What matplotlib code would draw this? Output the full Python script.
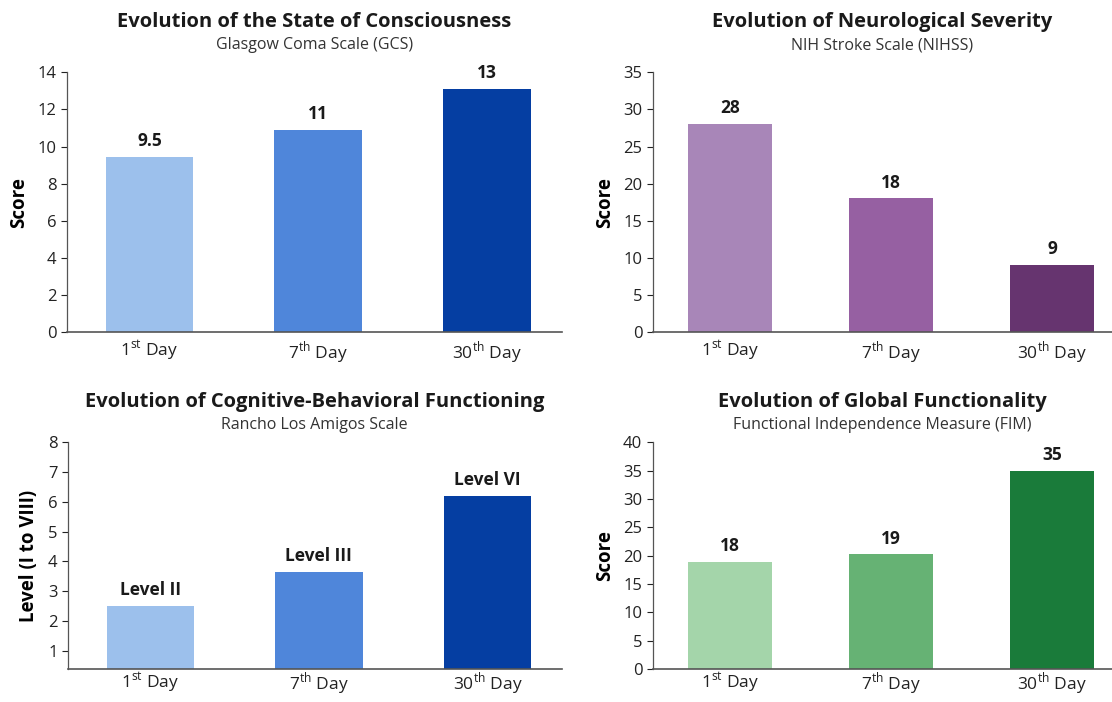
import matplotlib
matplotlib.use("Agg")
import matplotlib.pyplot as plt

plt.rcParams.update({
    "font.family": ["Open Sans", "DejaVu Sans"],
    "mathtext.fontset": "custom",
    "mathtext.rm": "Open Sans",
    "axes.edgecolor": "#555555",
    "text.color": "#1A1A1A",
    "xtick.color": "#222222",
    "ytick.color": "#222222",
})

days = ["1$^{\\mathrm{st}}$ Day", "7$^{\\mathrm{th}}$ Day", "30$^{\\mathrm{th}}$ Day"]

# bar heights as drawn, labels as printed
gcs = [9.45, 10.9, 13.1]
gcs_lbl = ["9.5", "11", "13"]
nihss = [28.1, 18.0, 9.1]
nihss_lbl = ["28", "18", "9"]
rancho = [2.5, 3.65, 6.2]
rancho_lbl = ["Level II", "Level III", "Level VI"]
fim = [18.8, 20.2, 35.0]
fim_lbl = ["18", "19", "35"]

BLUES = ["#9CC0EC", "#4F86DA", "#053EA2"]
PURPLES = ["#A886B8", "#9660A2", "#66346F"]
GREENS = ["#A4D5AA", "#66B274", "#1A7B3A"]

fig = plt.figure(figsize=(11.12, 7.02), dpi=100)
ax_tl = fig.add_axes([0.060, 0.527, 0.445, 0.370])
ax_tr = fig.add_axes([0.587, 0.527, 0.413, 0.370])
ax_bl = fig.add_axes([0.061, 0.047, 0.444, 0.323])
ax_br = fig.add_axes([0.587, 0.047, 0.413, 0.323])

panels = [
    (ax_tl, gcs, gcs_lbl, BLUES, "Evolution of the State of Consciousness",
     "Glasgow Coma Scale (GCS)", "Score", (0, 14), range(0, 15, 2), (-0.49, 2.44), 0.192, 0.104, 5),
    (ax_tr, nihss, nihss_lbl, PURPLES, "Evolution of Neurological Severity",
     "NIH Stroke Scale (NIHSS)", "Score", (0, 35), range(0, 36, 5), (-0.48, 2.37), 0.192, 0.104, 5),
    (ax_bl, rancho, rancho_lbl, BLUES, "Evolution of Cognitive-Behavioral Functioning",
     "Rancho Los Amigos Scale", "Level (I to VIII)", (0.39, 8), range(1, 9), (-0.49, 2.44), 0.177, 0.076, 1),
    (ax_br, fim, fim_lbl, GREENS, "Evolution of Global Functionality",
     "Functional Independence Measure (FIM)", "Score", (0, 40), range(0, 41, 5), (-0.48, 2.37), 0.177, 0.076, 1),
]

for ax, vals, lbls, cols, title, sub, ylab, ylim, yt, xlim, ty, sy, xpad in panels:
    x = list(range(len(vals)))
    bars = ax.bar(x, vals, 0.52, color=cols, zorder=2)
    for b, t in zip(bars, lbls):
        ax.annotate(t, (b.get_x() + b.get_width() / 2, b.get_height()),
                    xytext=(0, 5), textcoords="offset points",
                    ha="center", va="bottom", fontsize=12.5, fontweight="bold")
    ax.set_xlim(*xlim)
    ax.set_ylim(*ylim)
    ax.set_yticks(list(yt))
    ax.set_xticks(x)
    ax.set_xticklabels(days, fontsize=12.5)
    ax.tick_params(axis="x", length=0, pad=xpad)
    ax.tick_params(axis="y", labelsize=12, length=4, width=0.8)
    ax.set_ylabel(ylab, fontsize=13.5, fontweight="bold", labelpad=6)
    for s in ("top", "right"):
        ax.spines[s].set_visible(False)
    ax.spines["left"].set_linewidth(0.9)
    ax.spines["bottom"].set_linewidth(1.2)
    ax.text(0.5, 1 + ty, title, transform=ax.transAxes, ha="center", va="center",
            fontsize=14.5, fontweight="bold")
    ax.text(0.5, 1 + sy, sub, transform=ax.transAxes, ha="center", va="center",
            fontsize=11.5, color="#333333")

fig.savefig("out.png", dpi=100, facecolor="white")
